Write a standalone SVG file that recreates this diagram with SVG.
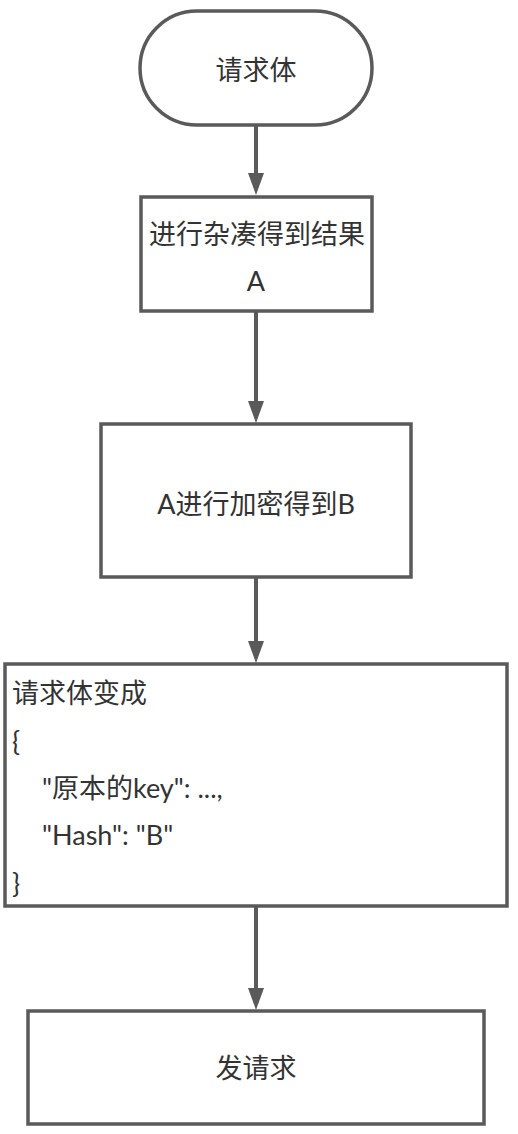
<svg xmlns="http://www.w3.org/2000/svg" width="518" height="1134" viewBox="0 0 518 1134">
<style>
.shape{fill:#ffffff;stroke:#5a5a5a;stroke-width:3.5}
.lbl{font-family:"Lato","Noto Sans CJK SC",sans-serif;font-size:27px;fill:#333333}
.c{text-anchor:middle;dominant-baseline:central}
.l{text-anchor:start;dominant-baseline:central}
.edge{stroke:#5a5a5a;stroke-width:4;fill:none}
.head{fill:#5a5a5a}
</style>
<rect width="518" height="1134" fill="#ffffff"/>
<g id="connectors">
<line class="edge" x1="256" y1="126" x2="256" y2="174"/>
<path class="head" d="M248,173 L264,173 L256,195 Z"/>
<line class="edge" x1="256" y1="312" x2="256" y2="402"/>
<path class="head" d="M248,401 L264,401 L256,423 Z"/>
<line class="edge" x1="256" y1="578" x2="256" y2="642"/>
<path class="head" d="M248,641 L264,641 L256,663 Z"/>
<line class="edge" x1="256" y1="907" x2="256" y2="990"/>
<path class="head" d="M248,988 L264,988 L256,1010 Z"/>
</g>
<g id="n1">
<rect class="shape" x="140" y="11" width="232" height="114" rx="57" ry="57"/>
<text class="lbl c" x="256" y="69">请求体</text>
</g>
<g id="n2">
<rect class="shape" x="141" y="197" width="231" height="114"/>
<text class="lbl c" x="257" y="233">进行杂凑得到结果</text>
<text class="lbl c" x="256" y="280">A</text>
</g>
<g id="n3">
<rect class="shape" x="101" y="424" width="310" height="153"/>
<text class="lbl c" x="256" y="503">A进行加密得到B</text>
</g>
<g id="n4">
<rect class="shape" x="5" y="664" width="502" height="242"/>
<text class="lbl l" x="12" y="692">请求体变成</text>
<text class="lbl l" x="12" y="740">{</text>
<text class="lbl l" x="42" y="787">"原本的key": ...,</text>
<text class="lbl l" x="42" y="834">"Hash": "B"</text>
<text class="lbl l" x="12" y="882">}</text>
</g>
<g id="n5">
<rect class="shape" x="28" y="1011" width="456" height="113"/>
<text class="lbl c" x="256" y="1067">发请求</text>
</g>
</svg>
